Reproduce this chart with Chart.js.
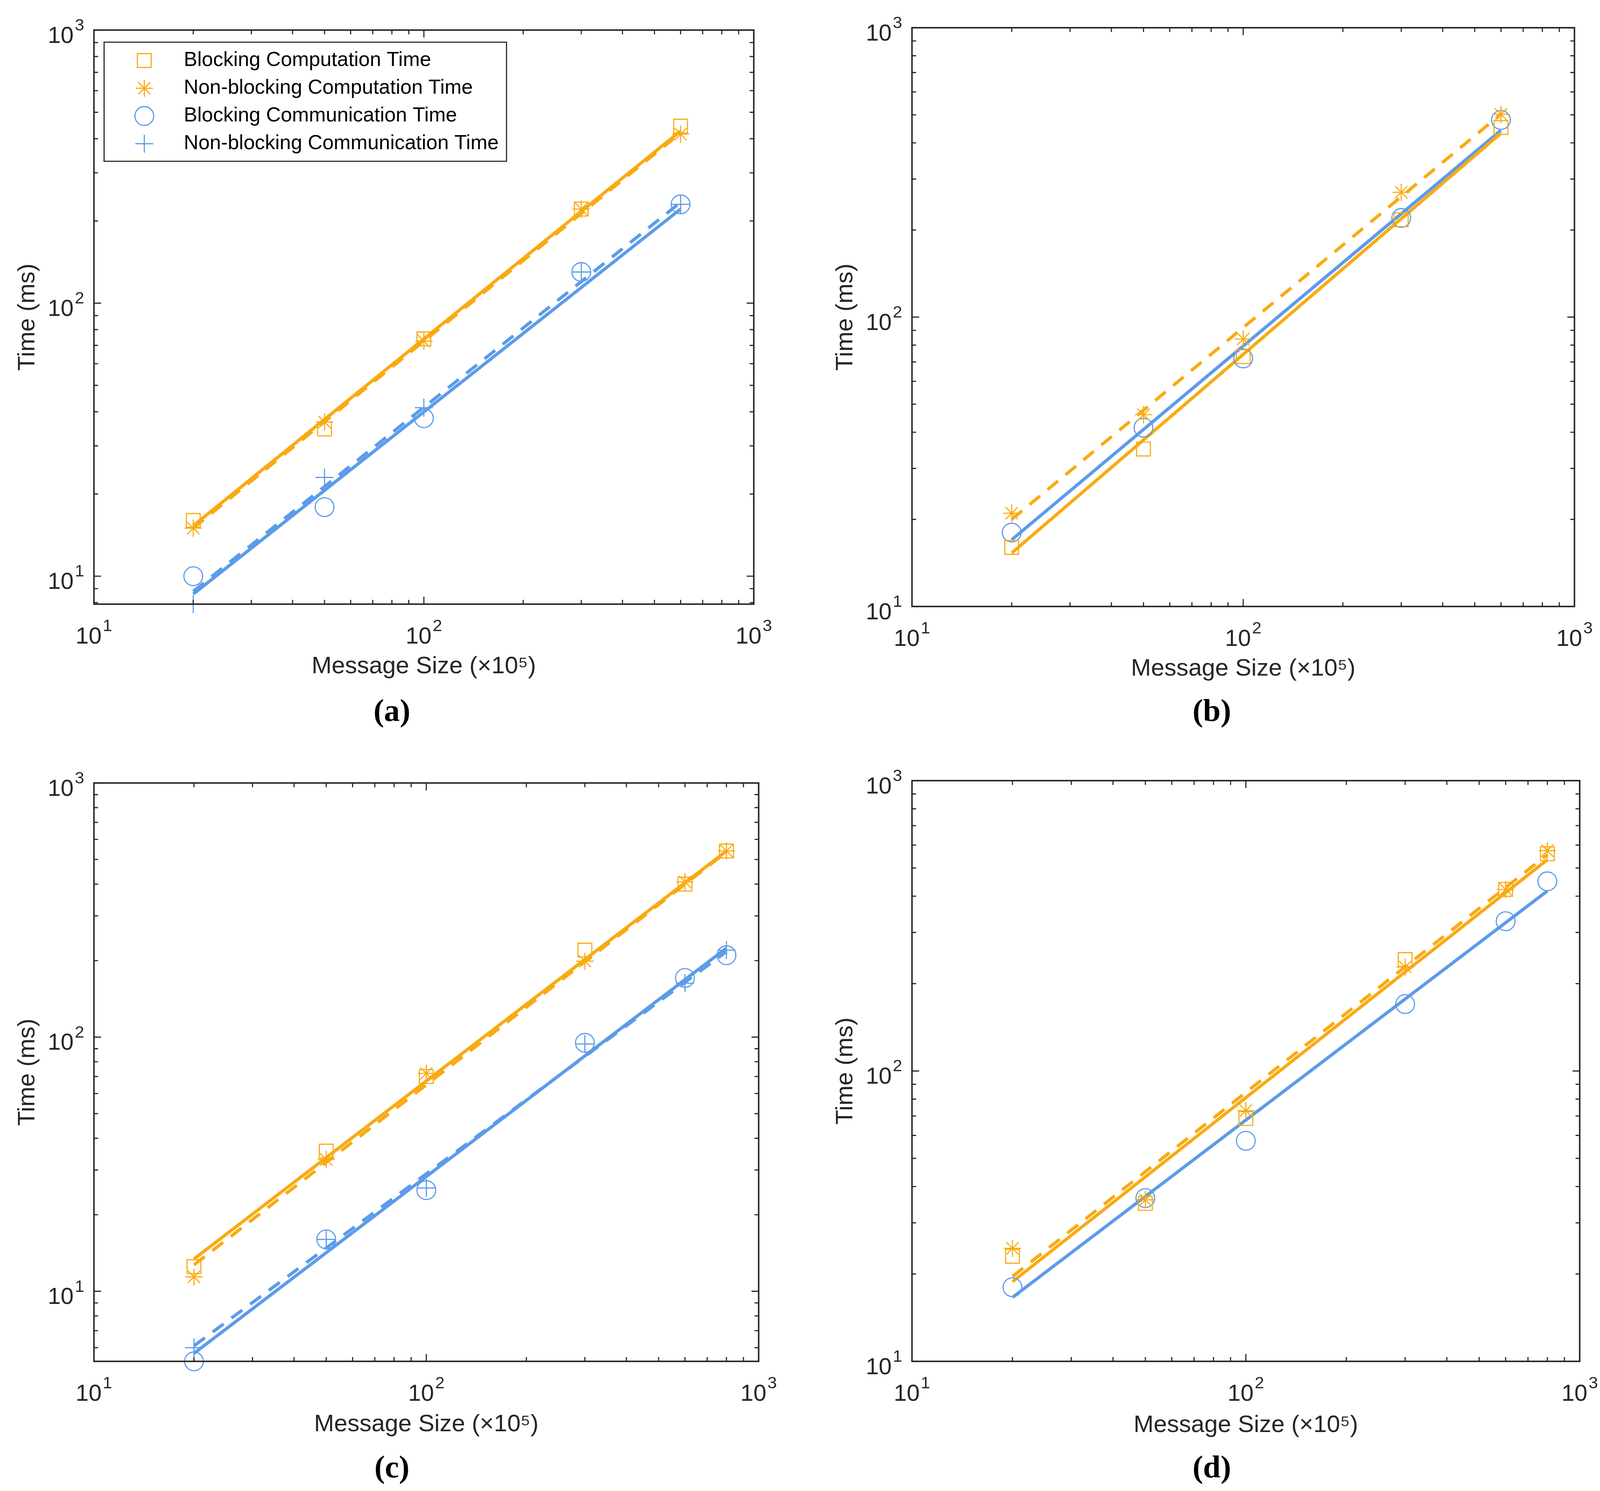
<!DOCTYPE html>
<html>
<head>
<meta charset="utf-8">
<title>Blocking vs non-blocking timing</title>
<script src="https://cdn.jsdelivr.net/npm/chart.js@4.4.1/dist/chart.umd.min.js"></script>
<style>
  html, body { margin: 0; padding: 0; background: #fff; overflow: hidden; }
  #page { position: relative; background: #fff; overflow: hidden; }
  #page canvas { position: absolute; }
  .cap {
    position: absolute; text-align: center; color: #000;
    font-family: 'Liberation Serif', 'DejaVu Serif', serif; font-weight: bold;
    transform: translate(-50%, -50%); white-space: nowrap;
  }
</style>
</head>
<body>
<div id="page"></div>
<script>
// ---- data ----
const seriesNames = [
  'Blocking Computation Time',
  'Non-blocking Computation Time',
  'Blocking Communication Time',
  'Non-blocking Communication Time'
];

// axis ticks (both axes are log, decades only get labels)
const tickValues = [10, 100, 1000];
const tickBase = ['10', '10', '10'];
const tickExp = ['1', '2', '3'];

// (a)
const sizesA = [20, 50, 100, 300, 600];
const blockCompA = [16, 34.6, 74, 221, 445];
const nonBlockCompA = [15, 36.7, 72.6, 221, 416];
const blockCommA = [10, 17.9, 37.9, 130, 230];
const nonBlockCommA = [7.9, 23, 41.4, 130, 230];
const fitXA = [20, 600];
const fitBlockCompA = [15.3, 427];
const fitNonBlockCompA = [15.0, 420];
const fitBlockCommA = [8.6, 221];
const fitNonBlockCommA = [8.8, 234];

// (b)
const sizesB = [20, 50, 100, 300, 600];
const blockCompB = [16, 35, 73, 217, 452];
const nonBlockCompB = [21, 46, 84, 270, 502];
const blockCommB = [18, 41.5, 72, 220, 480];
const fitXB = [20, 600];
const fitBlockCompB = [15.3, 432];
const fitNonBlockCompB = [20, 503];
const fitBlockCommB = [17, 442];

// (c)
const sizesC = [20, 50, 100, 300, 600, 800];
const blockCompC = [12.5, 35.6, 70, 220, 400, 540];
const nonBlockCompC = [11.4, 33, 72, 199, 408, 540];
const blockCommC = [5.3, 16, 25, 95, 171, 210];
const nonBlockCommC = [6.0, 16, 25.5, 94, 163, 220];
const fitXC = [20, 800];
const fitBlockCompC = [13.4, 540];
const fitNonBlockCompC = [12.7, 535];
const fitBlockCommC = [5.7, 224];
const fitNonBlockCommC = [6.1, 217];

// (d)
const sizesD = [20, 50, 100, 300, 600, 800];
const blockCompD = [23, 35, 68.6, 242, 422, 560];
const nonBlockCompD = [24.5, 36, 73, 228, 422, 574];
const blockCommD = [18, 36.5, 57.5, 170, 328, 450];
const fitXD = [20, 800];
const fitBlockCompD = [18.8, 534];
const fitNonBlockCompD = [19.6, 556];
const fitBlockCommD = [16.6, 417];

// ---- page geometry (designed for 4258 x 3818, scaled to the real viewport) ----
const REF_W = 4258, REF_H = 3818;
const vw = window.innerWidth || REF_W;
const vh = window.innerHeight || REF_H;
const sx = Math.min(vw / REF_W, 1);
const sy = Math.min(vh / REF_H, 1);
const fs = Math.min(sx, sy);

const PW = Math.round(REF_W / 2 * sx);
const PH = Math.round(REF_H / 2 * sy);
const page = document.getElementById('page');
page.style.width = (PW * 2) + 'px';
page.style.height = (PH * 2) + 'px';

const ORANGE = '#F9AA12';
const BLUE = '#5C9BEA';
const AXIS = '#262626';
const FONT = "'Liberation Sans', Arial, sans-serif";

function pts(xs, ys) {
  return xs.map((x, i) => ({ x: x, y: ys[i] }));
}

function markerSet(label, xs, ys, style, color, r) {
  return {
    label: label,
    data: pts(xs, ys),
    showLine: false,
    pointStyle: style,
    pointRadius: r * fs,
    pointHoverRadius: r * fs,
    pointBorderWidth: 3 * fs,
    pointBorderColor: color,
    pointBackgroundColor: 'rgba(0,0,0,0)',
    clip: false,
    isMarker: true
  };
}

function fitSet(xs, ys, color, dashed) {
  return {
    label: '',
    data: pts(xs, ys),
    showLine: true,
    borderColor: color,
    borderWidth: 8.5 * fs,
    borderDash: dashed ? [36 * fs, 26 * fs] : [],
    borderCapStyle: 'butt',
    pointRadius: 0,
    pointHoverRadius: 0,
    clip: false
  };
}

// box with inward major/minor ticks on all four sides, plus "10^n" labels
const framePlugin = {
  id: 'frame',
  afterDatasetsDraw(chart) {
    const { ctx, chartArea: a, scales } = chart;
    const xs = scales.x, ys = scales.y;
    const logTicks = (sc) => {
      const out = [];
      for (let d = 1; d <= 1000; d *= 10) {
        for (let k = 1; k <= 9; k++) {
          const v = k * d;
          if (v >= sc.min - 1e-9 && v <= sc.max + 1e-9) out.push({ v: v, major: k === 1 });
        }
      }
      return out;
    };
    ctx.save();
    ctx.strokeStyle = AXIS;
    ctx.lineWidth = 3 * fs;
    ctx.beginPath();
    logTicks(xs).forEach(t => {
      const px = xs.getPixelForValue(t.v);
      const len = (t.major ? 19 : 11) * sy;
      ctx.moveTo(px, a.bottom); ctx.lineTo(px, a.bottom - len);
      ctx.moveTo(px, a.top); ctx.lineTo(px, a.top + len);
    });
    logTicks(ys).forEach(t => {
      const py = ys.getPixelForValue(t.v);
      const len = (t.major ? 19 : 11) * sx;
      ctx.moveTo(a.left, py); ctx.lineTo(a.left + len, py);
      ctx.moveTo(a.right, py); ctx.lineTo(a.right - len, py);
    });
    ctx.stroke();
    ctx.lineWidth = 4 * fs;
    ctx.strokeRect(a.left, a.top, a.right - a.left, a.bottom - a.top);

    // tick labels: "10" with a raised exponent
    const baseFont = (62 * fs) + 'px ' + FONT;
    const supFont = (45 * fs) + 'px ' + FONT;
    ctx.fillStyle = AXIS;
    ctx.textBaseline = 'alphabetic';
    tickValues.forEach((v, i) => {
      ctx.font = baseFont;
      const wb = ctx.measureText(tickBase[i]).width;
      ctx.font = supFont;
      const we = ctx.measureText(tickExp[i]).width;
      const gap = 3 * fs;
      if (v >= xs.min && v <= xs.max) {
        const px = xs.getPixelForValue(v);
        const left = px - (wb + gap + we) / 2;
        const base = a.bottom + 101 * sy;
        ctx.textAlign = 'left';
        ctx.font = baseFont;
        ctx.fillText(tickBase[i], left, base);
        ctx.font = supFont;
        ctx.fillText(tickExp[i], left + wb + gap, base - 33 * fs);
      }
      if (v >= ys.min && v <= ys.max) {
        const py = ys.getPixelForValue(v);
        const right = a.left - 26 * sx;
        const base = py + 34 * fs;
        ctx.textAlign = 'right';
        ctx.font = supFont;
        ctx.fillText(tickExp[i], right, base - 33 * fs);
        ctx.font = baseFont;
        ctx.fillText(tickBase[i], right - we - gap, base);
      }
    });
    ctx.restore();
  }
};

// legend drawn inside the axes box
const boxLegendPlugin = {
  id: 'boxLegend',
  afterDraw(chart, args, o) {
    if (!o || !o.show) return;
    const ctx = chart.ctx;
    const items = chart.data.datasets.filter(d => d.isMarker);
    const L = o.left * sx, T = o.top * sy, R = o.right * sx, B = o.bottom * sy;
    ctx.save();
    ctx.fillStyle = '#fff';
    ctx.fillRect(L, T, R - L, B - T);
    ctx.strokeStyle = AXIS;
    ctx.lineWidth = 3 * fs;
    ctx.strokeRect(L, T, R - L, B - T);
    items.forEach((d, i) => {
      const y = (o.firstRow + i * o.rowGap) * sy;
      ctx.strokeStyle = d.pointBorderColor;
      ctx.fillStyle = 'rgba(0,0,0,0)';
      ctx.lineWidth = d.pointBorderWidth;
      Chart.helpers.drawPoint(ctx, { pointStyle: d.pointStyle, radius: d.pointRadius, rotation: 0, borderWidth: d.pointBorderWidth }, o.markerX * sx, y);
      ctx.fillStyle = '#000';
      ctx.font = (54 * fs) + 'px ' + FONT;
      ctx.textBaseline = 'middle';
      ctx.textAlign = 'left';
      ctx.fillText(d.label, o.textX * sx, y);
    });
    ctx.restore();
  }
};

function makeChart(geo, datasets, legend) {
  const canvas = document.createElement('canvas');
  canvas.width = PW;
  canvas.height = PH;
  canvas.style.left = (geo.col * PW) + 'px';
  canvas.style.top = (geo.row * PH) + 'px';
  page.appendChild(canvas);

  const cap = document.createElement('div');
  cap.className = 'cap';
  cap.textContent = geo.caption;
  cap.style.fontSize = (84 * fs) + 'px';
  cap.style.left = (geo.col * PW + geo.capX * sx) + 'px';
  cap.style.top = (geo.row * PH + geo.capY * sy) + 'px';
  page.appendChild(cap);

  const titleSize = 64 * fs;
  const halfLine = titleSize * 1.2 / 2;
  new Chart(canvas, {
    type: 'scatter',
    data: { datasets: datasets },
    options: {
      responsive: false,
      animation: false,
      devicePixelRatio: 1,
      layout: { padding: { left: 0, top: geo.top * sy, right: PW - geo.right * sx, bottom: 0 } },
      plugins: {
        legend: { display: false },
        tooltip: { enabled: false },
        boxLegend: legend || { show: false }
      },
      scales: {
        x: {
          type: 'logarithmic',
          min: 10, max: 1000,
          grid: { display: false, drawTicks: false },
          border: { display: false },
          afterBuildTicks: s => { s.ticks = tickValues.map(v => ({ value: v })); },
          afterFit: s => { s.height = PH - geo.bottom * sy; },
          ticks: { display: false },
          title: {
            display: true, text: 'Message Size (\u00D710\u2075)', color: AXIS,
            font: { family: FONT, size: titleSize, lineHeight: 1.2 },
            padding: { top: 0, bottom: PH - geo.xTitleY * sy - halfLine }
          }
        },
        y: {
          type: 'logarithmic',
          min: geo.yMin, max: 1000,
          grid: { display: false, drawTicks: false },
          border: { display: false },
          afterBuildTicks: s => { s.ticks = tickValues.filter(v => v >= geo.yMin).map(v => ({ value: v })); },
          afterFit: s => { s.width = geo.left * sx; },
          ticks: { display: false },
          title: {
            display: true, text: 'Time (ms)', color: AXIS,
            font: { family: FONT, size: titleSize, lineHeight: 1.2 },
            padding: { top: geo.yTitleX * sx - halfLine, bottom: 0 }
          }
        }
      }
    },
    plugins: [framePlugin, boxLegendPlugin]
  });
}

// (a)
makeChart(
  { col: 0, row: 0, caption: '(a)', capX: 1043, capY: 1819,
    left: 250, right: 2006, top: 77, bottom: 1547, yMin: 7.9, yTitleX: 74, xTitleY: 1707 },
  [
    markerSet(seriesNames[0], sizesA, blockCompA, 'rect', ORANGE, 26),
    markerSet(seriesNames[1], sizesA, nonBlockCompA, 'star', ORANGE, 23),
    markerSet(seriesNames[2], sizesA, blockCommA, 'circle', BLUE, 25),
    markerSet(seriesNames[3], sizesA, nonBlockCommA, 'cross', BLUE, 24),
    fitSet(fitXA, fitBlockCompA, ORANGE, false),
    fitSet(fitXA, fitNonBlockCompA, ORANGE, true),
    fitSet(fitXA, fitBlockCommA, BLUE, false),
    fitSet(fitXA, fitNonBlockCommA, BLUE, true)
  ],
  { show: true, left: 277, top: 108, right: 1348, bottom: 413, markerX: 384, textX: 489, firstRow: 155, rowGap: 71 }
);

// (b)
makeChart(
  { col: 1, row: 0, caption: '(b)', capX: 1096, capY: 1819,
    left: 298, right: 2061, top: 71, bottom: 1553, yMin: 10, yTitleX: 122, xTitleY: 1713 },
  [
    markerSet(seriesNames[0], sizesB, blockCompB, 'rect', ORANGE, 26),
    markerSet(seriesNames[1], sizesB, nonBlockCompB, 'star', ORANGE, 23),
    markerSet(seriesNames[2], sizesB, blockCommB, 'circle', BLUE, 25),
    fitSet(fitXB, fitBlockCompB, ORANGE, false),
    fitSet(fitXB, fitNonBlockCompB, ORANGE, true),
    fitSet(fitXB, fitBlockCommB, BLUE, false)
  ]
);

// (c)
makeChart(
  { col: 0, row: 1, caption: '(c)', capX: 1043, capY: 1847,
    left: 250, right: 2019, top: 96, bottom: 1577, yMin: 5.3, yTitleX: 74, xTitleY: 1739 },
  [
    markerSet(seriesNames[0], sizesC, blockCompC, 'rect', ORANGE, 26),
    markerSet(seriesNames[1], sizesC, nonBlockCompC, 'star', ORANGE, 23),
    markerSet(seriesNames[2], sizesC, blockCommC, 'circle', BLUE, 25),
    markerSet(seriesNames[3], sizesC, nonBlockCommC, 'cross', BLUE, 24),
    fitSet(fitXC, fitBlockCompC, ORANGE, false),
    fitSet(fitXC, fitNonBlockCompC, ORANGE, true),
    fitSet(fitXC, fitBlockCommC, BLUE, false),
    fitSet(fitXC, fitNonBlockCommC, BLUE, true)
  ]
);

// (d)
makeChart(
  { col: 1, row: 1, caption: '(d)', capX: 1096, capY: 1847,
    left: 298, right: 2075, top: 90, bottom: 1577, yMin: 10, yTitleX: 122, xTitleY: 1741 },
  [
    markerSet(seriesNames[0], sizesD, blockCompD, 'rect', ORANGE, 26),
    markerSet(seriesNames[1], sizesD, nonBlockCompD, 'star', ORANGE, 23),
    markerSet(seriesNames[2], sizesD, blockCommD, 'circle', BLUE, 25),
    fitSet(fitXD, fitBlockCompD, ORANGE, false),
    fitSet(fitXD, fitNonBlockCompD, ORANGE, true),
    fitSet(fitXD, fitBlockCommD, BLUE, false)
  ]
);
</script>
</body>
</html>
